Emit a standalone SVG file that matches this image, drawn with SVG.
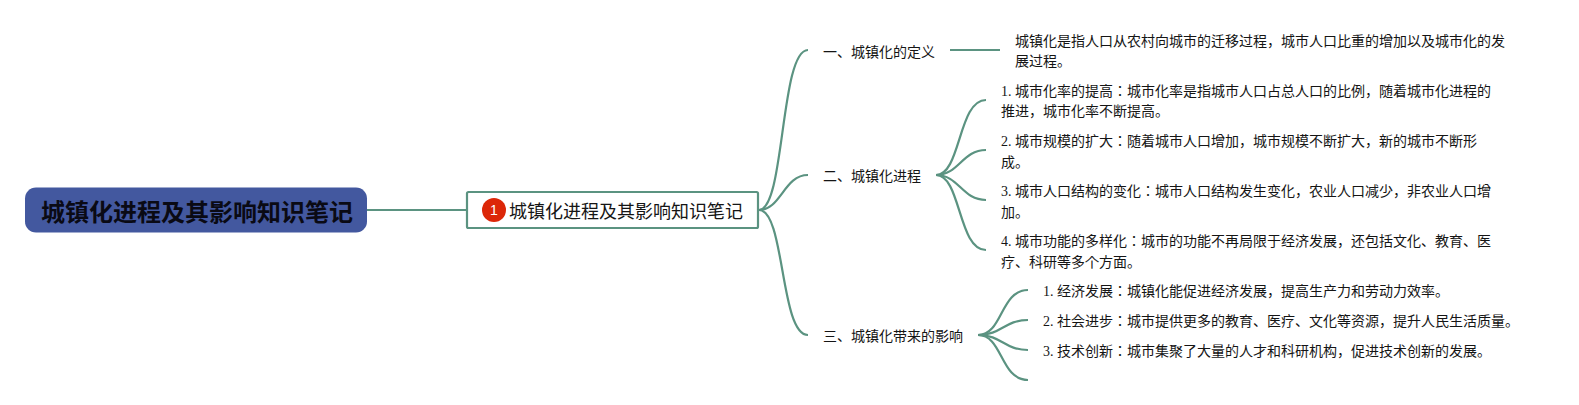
<svg xmlns="http://www.w3.org/2000/svg" width="1579" height="405" viewBox="0 0 1579 405">
<style>
text{font-family:"Liberation Serif","Noto Sans CJK JP",serif;font-size:14px;fill:#151515;dominant-baseline:central}
.c{fill:none;stroke:#5b9381;stroke-width:2.200}
.root{font-family:"Liberation Sans","Noto Sans CJK SC",sans-serif;font-size:24px;font-weight:bold;fill:#0a0a14}
.sub{font-family:"Liberation Sans","Noto Sans CJK SC",sans-serif;font-size:18px}
</style>
<rect width="1579" height="405" fill="#fff"/>
<g id="connectors">
<path class="c" d="M367 210H467"/>
<path class="c" d="M759 210C785 210 780 50 808 50"/>
<path class="c" d="M759 210C781 210 784 175 808 175"/>
<path class="c" d="M759 210C785 210 780 335 808 335"/>
<path class="c" d="M950 50H1000"/>
<path class="c" d="M936 175C961 175 958 100 986 100"/>
<path class="c" d="M936 175C959 175 962 150 986 150"/>
<path class="c" d="M936 175C959 175 962 200 986 200"/>
<path class="c" d="M936 175C961 175 958 250 986 250"/>
<path class="c" d="M978 335C1003 335 1000 290 1028 290"/>
<path class="c" d="M978 335C1002 335 1004 320 1028 320"/>
<path class="c" d="M978 335C1002 335 1004 350 1028 350"/>
<path class="c" d="M978 335C1003 335 1000 380 1028 380"/>
</g>
<g id="root"><rect x="25" y="187.500" width="342" height="45" rx="11" fill="#43589f"/><text class="root" x="41" y="212.500">城镇化进程及其影响知识笔记</text></g>
<g id="main"><rect x="467" y="192" width="291" height="36" rx="1.500" fill="#fff" stroke="#5b9381" stroke-width="2.200"/><circle cx="494" cy="210" r="12" fill="#dc2708"/><text x="494" y="210" text-anchor="middle" style="font-family:'Liberation Sans',sans-serif;font-size:14px;fill:#fff">1</text><text class="sub" x="509" y="212">城镇化进程及其影响知识笔记</text></g>
<g id="n1"><text x="823" y="52">一、城镇化的定义</text></g>
<g id="n1a"><text x="1015" y="41">城镇化是指人口从农村向城市的迁移过程，城市人口比重的增加以及城市化的发</text><text x="1015" y="61">展过程。</text></g>
<g id="n2"><text x="823" y="176">二、城镇化进程</text></g>
<g id="n2a"><text x="1001" y="91">1. 城市化率的提高：城市化率是指城市人口占总人口的比例，随着城市化进程的</text><text x="1001" y="111">推进，城市化率不断提高。</text></g>
<g id="n2b"><text x="1001" y="141">2. 城市规模的扩大：随着城市人口增加，城市规模不断扩大，新的城市不断形</text><text x="1001" y="162">成。</text></g>
<g id="n2c"><text x="1001" y="191">3. 城市人口结构的变化：城市人口结构发生变化，农业人口减少，非农业人口增</text><text x="1001" y="212">加。</text></g>
<g id="n2d"><text x="1001" y="241">4. 城市功能的多样化：城市的功能不再局限于经济发展，还包括文化、教育、医</text><text x="1001" y="262">疗、科研等多个方面。</text></g>
<g id="n3"><text x="823" y="336">三、城镇化带来的影响</text></g>
<g id="n3a"><text x="1043" y="291">1. 经济发展：城镇化能促进经济发展，提高生产力和劳动力效率。</text></g>
<g id="n3b"><text x="1043" y="321">2. 社会进步：城市提供更多的教育、医疗、文化等资源，提升人民生活质量。</text></g>
<g id="n3c"><text x="1043" y="351">3. 技术创新：城市集聚了大量的人才和科研机构，促进技术创新的发展。</text></g>
</svg>
